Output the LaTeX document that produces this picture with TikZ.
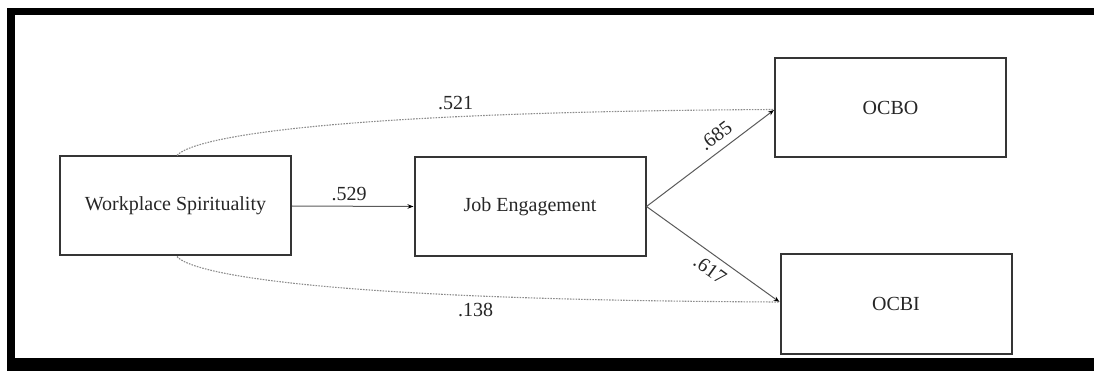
\documentclass[tikz,border=0pt]{standalone}
\usepackage{fontspec}
\setmainfont{Liberation Serif}
\usetikzlibrary{arrows.meta}
\definecolor{boxline}{HTML}{353535}
\definecolor{arrline}{HTML}{5A5A5A}
\definecolor{dotline}{HTML}{8C8C8C}
\begin{document}
\begin{tikzpicture}[x=1pt,y=-1pt,
  box/.style={draw=boxline, line width=2pt, minimum width=231pt, minimum height=99pt, inner sep=0pt, font=\fontsize{20}{24}\selectfont, text=black!85},
  solidarrow/.style={draw=arrline, line width=1pt, -{Stealth[length=6pt,width=4.5pt,black]}},
  dottedpath/.style={draw=dotline, line width=1.1pt, dash pattern=on 1.6pt off 1.2pt},
  lbl/.style={font=\fontsize{20}{24}\selectfont, text=black!85}
]
\useasboundingbox (0,0) rectangle (1094,371);
% frame
\fill[black] (7,8) rectangle (1094,15);
\fill[black] (7,8) rectangle (15,371);
\fill[black] (7,358) rectangle (1094,371);

\node[box] (ws) at (175.5,206) {Workplace Spirituality};
\node[box] (je) at (530,206.5) {Job Engagement};
\node[box] (ocbo) at (890.5,108) {OCBO};
\node[box] (ocbi) at (896,304) {OCBI};

\draw[solidarrow] (ws.east) -- (je.west) node[pos=0.47, above, lbl, inner sep=5pt] {.529};
\draw[solidarrow] (je.east) -- ([yshift=-2pt]ocbo.west) node[pos=0.61, above, sloped, lbl, inner sep=7pt] {.685};
\draw[solidarrow] (je.east) -- ([yshift=2pt]ocbi.west) node[pos=0.54, below, sloped, lbl, inner sep=7pt] {.617};

\draw[dottedpath] ([xshift=1.5pt]ws.north) .. controls (190,140) and (300,112) .. ([yshift=-1.5pt]ocbo.west) node[pos=0.72, above, lbl, inner sep=6pt] {.521};
\draw[dottedpath] ([xshift=1.5pt]ws.south) .. controls (190,272) and (300,300) .. ([yshift=2pt]ocbi.west) node[pos=0.74, below, lbl, inner sep=7pt] {.138};
\end{tikzpicture}
\end{document}
